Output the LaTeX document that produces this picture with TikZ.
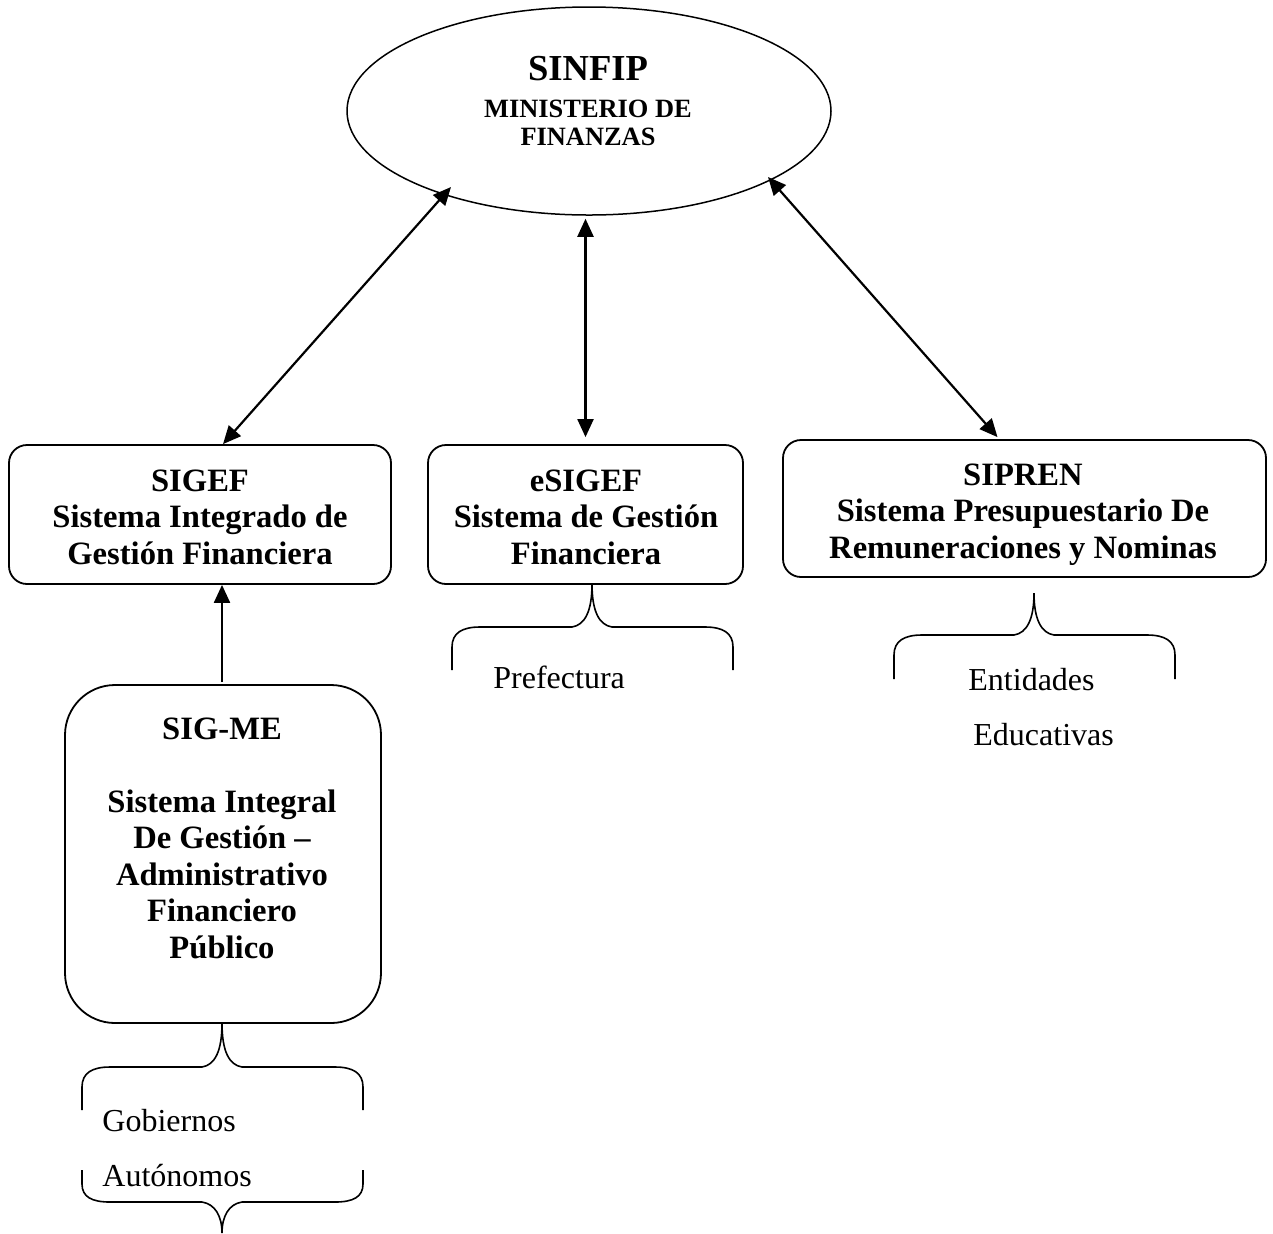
\documentclass[tikz,border=0pt]{standalone}
\usepackage{fontspec}
\setmainfont{Liberation Serif}
\usetikzlibrary{arrows.meta,shapes.geometric,calc}
\tikzset{
  boxnode/.style={draw, line width=0.9pt, rounded corners=9pt, inner sep=0pt},
  oval/.style={draw, ellipse, line width=0.75pt, inner sep=0pt, minimum width=242pt, minimum height=104pt},
  boxtext/.style={font=\fontsize{16.3}{18.2}\selectfont\bfseries, align=center, inner sep=0pt, anchor=base},
  plaintext/.style={font=\fontsize{16}{27.5}\selectfont, align=left, inner sep=0pt, anchor=base west},
  biarrow/.style={line width=1.1pt, {Triangle[length=9pt,width=8pt]}-{Triangle[length=9pt,width=8pt]}},
  uniarrow/.style={line width=1.1pt, -{Triangle[length=9pt,width=8pt]}},
  bracepath/.style={line width=0.8pt}
}
% #1 left x, #2 middle x, #3 right x, #4 tip y, #5 horizontal y, #6 end y
\newcommand{\UpBrace}[6]{%
  \draw[bracepath] (#1,#6) -- (#1,#5+20) .. controls (#1,#5+6) and (#1+10,#5) .. (#1+28,#5)
    -- (#2-20,#5) .. controls (#2-7,#5-2) and (#2,#5-16) .. (#2,#4)
    .. controls (#2,#5-16) and (#2+7,#5-2) .. (#2+20,#5)
    -- (#3-28,#5) .. controls (#3-10,#5) and (#3,#5+6) .. (#3,#5+20) -- (#3,#6);}
\newcommand{\DownBrace}[6]{%
  \draw[bracepath] (#1,#6) -- (#1,#5-18) .. controls (#1,#5-5) and (#1+10,#5) .. (#1+28,#5)
    -- (#2-20,#5) .. controls (#2-7,#5+2) and (#2,#5+14) .. (#2,#4)
    .. controls (#2,#5+14) and (#2+7,#5+2) .. (#2+20,#5)
    -- (#3-28,#5) .. controls (#3-10,#5) and (#3,#5-5) .. (#3,#5-18) -- (#3,#6);}
\begin{document}
\begin{tikzpicture}[x=0.5pt,y=-0.5pt]
\useasboundingbox (0,0) rectangle (1273,1233);

% top ellipse
\node[oval] (sinfip) at (589,111) {};
\node[font=\fontsize{18.3}{18.5}\selectfont\bfseries, inner sep=0pt, anchor=base] (sinfipt) at (588,80) {SINFIP};
\node[font=\fontsize{13.2}{14}\selectfont\bfseries, inner sep=0pt, anchor=base] (minis) at (588,117) {MINISTERIO DE};
\node[font=\fontsize{13.2}{14}\selectfont\bfseries, inner sep=0pt, anchor=base] (finan) at (588,145) {FINANZAS};

% boxes
\node[boxnode, minimum width=191pt, minimum height=69.5pt] (sigef) at (200,514.5) {};
\node[boxnode, minimum width=157.5pt, minimum height=69.5pt] (esigef) at (585.5,514.5) {};
\node[boxnode, minimum width=241.5pt, minimum height=68.5pt] (sipren) at (1024.5,508.5) {};
\node[boxnode, rounded corners=25pt, minimum width=158pt, minimum height=169pt] (sigme) at (223,854) {};

% box texts (anchored at the baseline of the last line)
\node[boxtext] (sigeft) at (200,564) {SIGEF\\Sistema Integrado de\\Gestión Financiera};
\node[boxtext] (esigeft) at (586,564) {eSIGEF\\Sistema de Gestión\\Financiera};
\node[boxtext] (siprent) at (1023,558) {SIPREN\\Sistema Presupuestario De\\Remuneraciones y Nominas};
\node[boxtext] (sigmet) at (222,958) {SIG-ME\\[18.5pt]Sistema Integral\\De Gestión –\\Administrativo\\Financiero\\Público};

% connectors
\draw[biarrow] ($(sinfip.center)+(-138,76)$) -- ($(sigef.north)+(23,0)$);
\draw[biarrow] ($(sinfip.south -| esigef.north)+(0,3)$) -- ($(esigef.north)+(0,-7)$);
\draw[biarrow] ($(sinfip.center)+(179,66)$) -- ($(sipren.north)+(-27,-2)$);
\draw[uniarrow] ($(sigme.north)+(-1,-2)$) -- ($(sigef.south)+(22,0)$);

% braces
\UpBrace{452}{592}{733}{584}{627}{670}
\UpBrace{894}{1034}{1175}{593}{635}{679}
\UpBrace{82}{222}{363}{1023}{1067}{1110}
\DownBrace{82}{222}{363}{1233}{1202}{1170}

% plain labels (anchored at the baseline of the last line)
\node[plaintext] (pref) at (493,688) {Prefectura};
\node[plaintext] (entid) at (968,745) {Entidades\\\hspace*{2.5pt}Educativas};
\node[plaintext] (gob) at (102,1186) {Gobiernos\\Autónomos};
\end{tikzpicture}
\end{document}
